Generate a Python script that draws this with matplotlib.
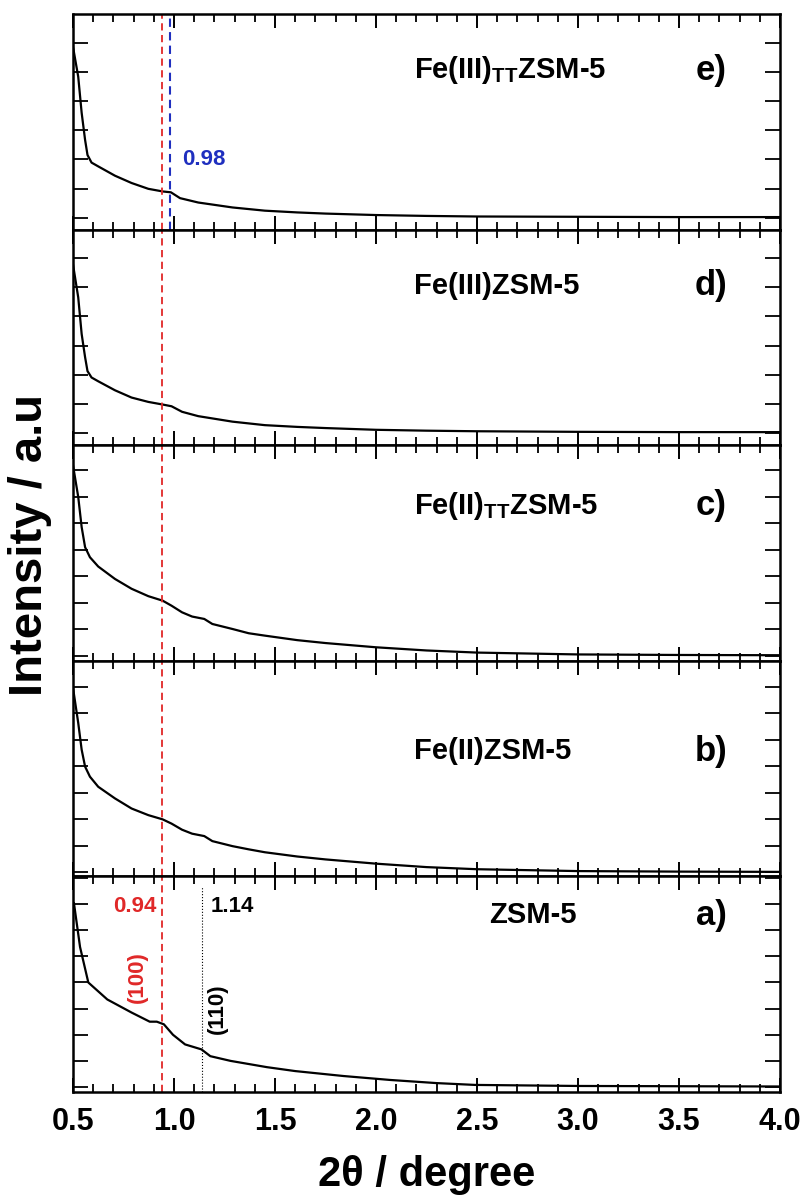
import matplotlib
matplotlib.use("Agg")
import matplotlib.pyplot as plt
from matplotlib.ticker import MultipleLocator

plt.rcParams['font.family'] = ['Liberation Sans', 'DejaVu Sans']
plt.rcParams['font.weight'] = 'bold'
plt.rcParams['mathtext.default'] = 'regular'

# curves, y in units of one y-tick step per panel
x_e = [0.50, 0.526, 0.543, 0.56, 0.572, 0.592, 0.625, 0.708, 0.79, 0.873, 0.944, 0.985, 1.03, 1.12, 1.29, 1.45, 1.61, 1.75, 2.0, 2.25, 2.5, 3.0, 3.5, 4.0]
y_e = [5.87, 4.84, 3.6, 2.67, 2.15, 1.89, 1.76, 1.44, 1.19, 0.99, 0.90, 0.87, 0.67, 0.52, 0.35, 0.24, 0.18, 0.14, 0.09, 0.06, 0.04, 0.03, 0.02, 0.02]

x_d = [0.50, 0.526, 0.543, 0.56, 0.572, 0.592, 0.625, 0.708, 0.79, 0.873, 0.944, 0.988, 1.04, 1.12, 1.29, 1.45, 1.61, 1.75, 2.0, 2.25, 2.5, 3.0, 3.5, 4.0]
y_d = [5.8, 4.66, 3.4, 2.6, 2.12, 1.9, 1.77, 1.46, 1.21, 1.06, 0.97, 0.91, 0.72, 0.57, 0.38, 0.26, 0.2, 0.16, 0.1, 0.07, 0.05, 0.03, 0.02, 0.02]

x_c = [0.50, 0.526, 0.543, 0.56, 0.584, 0.625, 0.708, 0.79, 0.873, 0.944, 0.988, 1.04, 1.09, 1.15, 1.19, 1.29, 1.37, 1.45, 1.61, 1.75, 2.0, 2.25, 2.5, 3.0, 3.5, 4.0]
y_c = [7.2, 6.0, 4.86, 4.1, 3.72, 3.37, 2.9, 2.53, 2.25, 2.08, 1.89, 1.64, 1.48, 1.39, 1.2, 1.01, 0.85, 0.76, 0.59, 0.48, 0.32, 0.2, 0.12, 0.05, 0.03, 0.02]

x_b = x_c
y_b = [6.97, 5.64, 4.63, 3.99, 3.61, 3.23, 2.79, 2.41, 2.16, 2.0, 1.84, 1.61, 1.46, 1.37, 1.18, 0.99, 0.87, 0.76, 0.6, 0.49, 0.33, 0.2, 0.12, 0.05, 0.03, 0.02]

x_a = [0.505, 0.535, 0.576, 0.67, 0.79, 0.88, 0.915, 0.95, 0.995, 1.055, 1.136, 1.18, 1.28, 1.46, 1.60, 1.84, 2.07, 2.30, 2.49, 3.0, 3.5, 4.0]
y_a = [7.03, 5.36, 4.0, 3.35, 2.85, 2.5, 2.5, 2.4, 2.0, 1.63, 1.44, 1.18, 1.0, 0.76, 0.61, 0.42, 0.27, 0.15, 0.08, 0.04, 0.03, 0.02]

samples = [r'Fe(III)$_{\mathregular{TT}}$ZSM-5', 'Fe(III)ZSM-5', r'Fe(II)$_{\mathregular{TT}}$ZSM-5', 'Fe(II)ZSM-5', 'ZSM-5']
letters = ['e)', 'd)', 'c)', 'b)', 'a)']
curves = [(x_e, y_e), (x_d, y_d), (x_c, y_c), (x_b, y_b), (x_a, y_a)]
ylims = [(-0.41, 6.99), (-0.43, 6.99), (-0.19, 7.95), (-0.15, 7.98), (-0.19, 8.06)]
label_x = [2.19, 2.19, 2.19, 2.19, 2.56]
label_y = [0.74, 0.74, 0.72, 0.58, 0.82]

peak_100 = 0.94
peak_110 = 1.14
peak_e = 0.98

fig, axes = plt.subplots(5, 1, figsize=(8.08, 11.98), dpi=100, sharex=True,
                         gridspec_kw={'hspace': 0})
fig.subplots_adjust(left=0.0903, right=0.9653, top=0.9883, bottom=0.0885)

for i, ax in enumerate(axes):
    xs, ys = curves[i]
    ax.plot(xs, ys, color='black', lw=1.6)
    ax.axvline(peak_100, color='#e02828', lw=1.3, dashes=(4, 2.5))
    ax.set_xlim(0.5, 4.0)
    ax.set_ylim(*ylims[i])
    ax.xaxis.set_major_locator(MultipleLocator(0.5))
    ax.xaxis.set_minor_locator(MultipleLocator(0.1))
    ax.yaxis.set_major_locator(MultipleLocator(1))
    ax.tick_params(axis='x', which='major', direction='in', top=True, bottom=True,
                   length=10, width=1.4, labelsize=22, pad=11)
    ax.tick_params(axis='x', which='minor', direction='in', top=True, bottom=True,
                   length=5.5, width=1.3)
    ax.tick_params(axis='y', which='major', direction='in', left=True, right=True,
                   length=11, width=1.3, labelleft=False)
    for s in ax.spines.values():
        s.set_linewidth(1.8)
    ax.text(label_x[i], label_y[i], samples[i], transform=ax.get_xaxis_transform(),
            ha='left', va='center', fontsize=21, fontweight='bold')
    ax.text(3.66, label_y[i], letters[i], transform=ax.get_xaxis_transform(),
            ha='center', va='center', fontsize=25, fontweight='bold')

# panel e: blue marker
axes[0].axvline(peak_e, color='#1f2fbf', lw=1.5, dashes=(4, 2.5))
axes[0].text(1.04, 2.0, '0.98', color='#1f2fbf', fontsize=16, fontweight='bold',
             ha='left', va='center')

# panel a: reflections
ax = axes[4]
ax.plot([peak_110, peak_110], [-0.19, 7.7], color='black', lw=0.8, ls=':')
ax.text(0.807, 6.92, '0.94', color='#e02828', fontsize=16, fontweight='bold',
        ha='center', va='center')
ax.text(1.29, 6.92, '1.14', color='black', fontsize=16, fontweight='bold',
        ha='center', va='center')
ax.text(0.82, 4.2, '(100)', color='#e02828', fontsize=16, fontweight='bold',
        rotation=90, ha='center', va='center')
ax.text(1.215, 3.0, '(110)', color='black', fontsize=16, fontweight='bold',
        rotation=90, ha='center', va='center')

ax.set_xticks([0.5, 1.0, 1.5, 2.0, 2.5, 3.0, 3.5, 4.0])
ax.set_xticklabels(['0.5', '1.0', '1.5', '2.0', '2.5', '3.0', '3.5', '4.0'],
                   fontweight='bold')

fig.text(0.528, 0.019, '2θ / degree', ha='center', va='center',
         fontsize=30, fontweight='bold')
fig.text(0.037, 1 - 545 / 1198, 'Intensity / a.u', rotation=90, ha='center',
         va='center', fontsize=34, fontweight='bold')

fig.savefig('out.png', dpi=100)
